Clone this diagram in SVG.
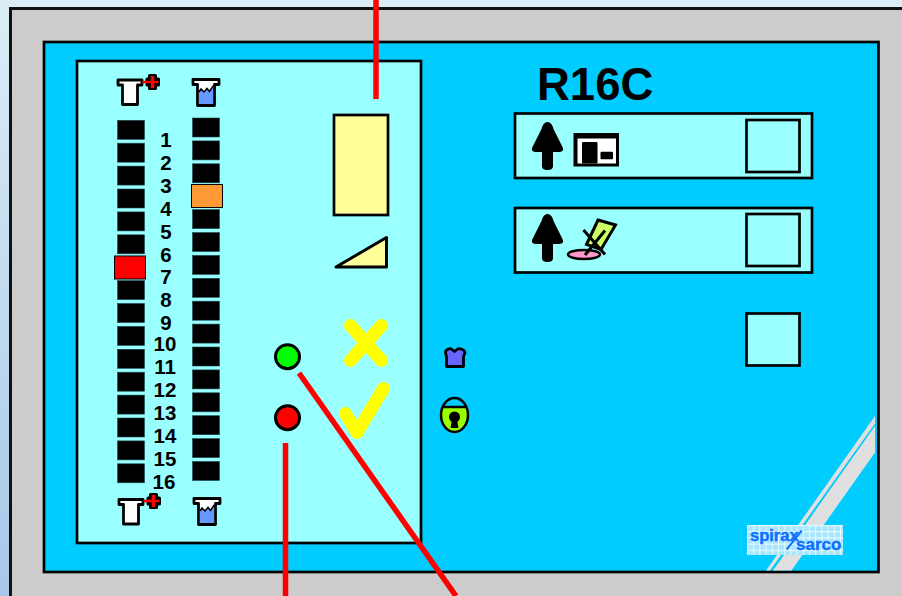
<svg xmlns="http://www.w3.org/2000/svg" width="902" height="596" viewBox="0 0 902 596">
<defs>
<linearGradient id="bg" x1="0" y1="0" x2="0" y2="1"><stop offset="0" stop-color="#dcedf6"/><stop offset="1" stop-color="#a6c8e8"/></linearGradient>
<pattern id="grid" width="6.2" height="6.2" patternUnits="userSpaceOnUse" x="747" y="525"><rect width="6.2" height="6.2" fill="#a8e6ff"/><path d="M0 .5H6.2M.5 0V6.2" stroke="#e8fbff" stroke-width="1"/></pattern>
<rect id="led" width="27" height="19" fill="#000" stroke="#1d4a50" stroke-width=".6"/>
<g id="shirt"><path d="M-12 1.500H12V6.500H7.500V26H-7.500V6.500H-12Z" fill="#fff" stroke="#000" stroke-width="2.800" stroke-linejoin="round"/></g>
<g id="plus"><path d="M-3 -6.500H3V-3H6V3H3V6.500H-3V3H-5.500V-3H-3Z" fill="#000" stroke="#000" stroke-width="3" stroke-linejoin="round"/><path d="M-10 0H6" stroke="#f00" stroke-width="2.500" fill="none"/><path d="M0 -6V6" stroke="#f00" stroke-width="3.500" fill="none"/></g>
<g id="cup"><path d="M-13 1.500H13V6.500H8.500V27.500H-8.500V6.500H-13Z" fill="#fff" stroke="#000" stroke-width="2.800" stroke-linejoin="round"/><path d="M-7.100 14L-5 11 -2 14 1 10.500 3.500 13.500 7.100 8V26.100H-7.100Z" fill="#6699ff"/><path d="M-7.100 14L-5 11 -2 14 1 10.500 3.500 13.500 7.100 8" fill="none" stroke="#000" stroke-width="1.500"/></g>
<path id="up" d="M0 0C3 0 5 3 6 7L15 25C17 29 14 30 11 30H5.500V44C5.500 47 3 48 0 48S-5.500 47-5.500 44V30H-11C-14 30-17 29-15 25L-6 7C-5 3-3 0 0 0Z" fill="#000"/>
<style>
.n{font-family:"Liberation Sans",Arial,sans-serif;font-weight:700;font-size:20.500px;fill:#000;text-anchor:middle}
.k{stroke:#000;stroke-width:2.700}
.p{fill:#99ffff;stroke:#000;stroke-width:2.700}
.y{fill:none;stroke:#ffff00;stroke-linecap:round;stroke-linejoin:round;stroke-width:13}
.c{fill:none;stroke:#ff0000;stroke-width:5.500}
.l{font-family:"Liberation Sans",Arial,sans-serif;font-weight:700;fill:#0d6fff;stroke:#0d6fff;stroke-width:.4}
</style>
</defs>
<rect width="902" height="596" fill="url(#bg)"/>
<rect id="housing" x="10.500" y="8.500" width="893" height="600" fill="#cccccc" stroke="#111" stroke-width="3"/>
<g id="fascia">
<rect x="44" y="42" width="834.500" height="530" fill="#00ccff" class="k"/>
<path d="M875 416V423.500L770 570.500H766Z" fill="#e0e0e0"/>
<path d="M875 426V452.500L791.500 570.500H773Z" fill="#e0e0e0"/>
</g>
<g id="left-panel"><rect x="77" y="61" width="344" height="482" class="p"/></g>
<g id="leds-left">
<use href="#led" x="117.500" y="120.300"/><use href="#led" x="117.500" y="143.200"/><use href="#led" x="117.500" y="166.100"/><use href="#led" x="117.500" y="189"/><use href="#led" x="117.500" y="211.900"/><use href="#led" x="117.500" y="234.800"/><rect x="114.500" y="256" width="31" height="23" fill="#ff0000" stroke="#000" stroke-width="1"/><use href="#led" x="117.500" y="280.600"/><use href="#led" x="117.500" y="303.500"/><use href="#led" x="117.500" y="326.400"/><use href="#led" x="117.500" y="349.300"/><use href="#led" x="117.500" y="372.200"/><use href="#led" x="117.500" y="395.100"/><use href="#led" x="117.500" y="418"/><use href="#led" x="117.500" y="440.900"/><use href="#led" x="117.500" y="463.800"/>
</g>
<g id="leds-right">
<use href="#led" x="192.500" y="118"/><use href="#led" x="192.500" y="140.900"/><use href="#led" x="192.500" y="163.800"/><rect x="191.500" y="184.500" width="31" height="23" fill="#ff9933" stroke="#000" stroke-width="1"/><use href="#led" x="192.500" y="209.600"/><use href="#led" x="192.500" y="232.500"/><use href="#led" x="192.500" y="255.400"/><use href="#led" x="192.500" y="278.300"/><use href="#led" x="192.500" y="301.200"/><use href="#led" x="192.500" y="324.100"/><use href="#led" x="192.500" y="347"/><use href="#led" x="192.500" y="369.900"/><use href="#led" x="192.500" y="392.800"/><use href="#led" x="192.500" y="415.700"/><use href="#led" x="192.500" y="438.600"/><use href="#led" x="192.500" y="461.500"/>
</g>
<g id="numbers">
<text class="n" x="166" y="147">1</text><text class="n" x="166" y="170">2</text><text class="n" x="166" y="193">3</text><text class="n" x="166" y="215.500">4</text><text class="n" x="166" y="238.500">5</text><text class="n" x="166" y="261.500">6</text><text class="n" x="166" y="284">7</text><text class="n" x="166" y="307">8</text><text class="n" x="166" y="330">9</text><text class="n" x="165" y="351">10</text><text class="n" x="165" y="374">11</text><text class="n" x="165" y="397">12</text><text class="n" x="165" y="420">13</text><text class="n" x="165" y="442.500">14</text><text class="n" x="165" y="465.500">15</text><text class="n" x="164" y="489">16</text>
</g>
<g id="icon-shirt-top"><use href="#shirt" x="130" y="78.500"/><use href="#plus" x="152.500" y="82"/></g>
<g id="icon-cup-top"><use href="#cup" x="206" y="78"/></g>
<g id="icon-shirt-bottom"><use href="#shirt" x="131" y="498"/><use href="#plus" x="153.500" y="501"/></g>
<g id="icon-cup-bottom"><use href="#cup" x="207" y="497"/></g>
<g id="level-gauge"><rect x="334" y="115" width="54" height="100" fill="#ffff99" class="k"/></g>
<g id="wedge"><path d="M336 267L386.500 237.500V267Z" fill="#ffff99" stroke="#000" stroke-width="3" stroke-linejoin="round"/></g>
<g id="cross"><path class="y" d="M350.500 325.500L381.500 360.500M381.500 325.500L350.500 360.500"/></g>
<g id="tick"><path class="y" d="M345.500 413.500L357 432.500 383.500 388.500"/></g>
<g id="led-green"><circle cx="287.500" cy="356.700" r="12" fill="#00ff00" stroke="#000" stroke-width="3"/></g>
<g id="led-red"><circle cx="287.500" cy="417.700" r="12" fill="#ff0000" stroke="#000" stroke-width="3"/></g>
<g id="shirt-small"><path d="M445.500 353C445 349.500 450 347.500 452 349.500L454.500 351.500 457 349.500C459 347.500 465 349.500 465 353L463.500 356.500V366.500H446.500V356.500Z" fill="#6666ff" stroke="#000" stroke-width="2.800" stroke-linejoin="round"/></g>
<g id="padlock"><path d="M441.500 407H467.500V415C467.500 424 462 432 454.500 432S441.500 424 441.500 415Z" fill="#99ff00"/><ellipse cx="454.500" cy="415" rx="13.500" ry="17" fill="none" stroke="#000" stroke-width="2.500"/><path d="M442 407H467" stroke="#000" stroke-width="2.500"/><circle cx="454.500" cy="417" r="5.500" fill="#000"/><path d="M452 420H457L458.500 428H450.500Z" fill="#000"/></g>
<g id="model-label"><text x="537" y="100" font-family="Liberation Sans,Arial,sans-serif" font-weight="700" font-size="45.500px" fill="#000">R16C</text></g>
<g id="row-1"><rect x="515" y="113.500" width="297" height="64.500" class="p"/><use href="#up" x="547.500" y="122"/><rect x="575" y="134.500" width="42.500" height="30.500" fill="#fff" stroke="#000" stroke-width="3"/><rect x="574" y="133" width="45" height="5.500" fill="#000"/><rect x="575" y="134" width="2.500" height="31" fill="#000"/><rect x="582" y="142" width="15.500" height="21.500" rx="1" fill="#000"/><rect x="600.500" y="151.700" width="12.500" height="7.600" rx="1" fill="#000"/><rect x="746.500" y="120" width="53" height="52" class="p"/></g>
<g id="row-2"><rect x="515" y="208" width="297" height="64.500" class="p"/><use href="#up" x="547.500" y="214"/><ellipse cx="584" cy="254.500" rx="16" ry="4.500" fill="#ff99cc" stroke="#000" stroke-width="2.500"/><path d="M598 220L615.500 225 601 249.500 586.500 244.500Z" fill="#ccff66" stroke="#000" stroke-width="3"/><path d="M583.500 230L605 254.500M605 230.500L585 255" stroke="#000" stroke-width="3" fill="none"/><rect x="746.500" y="214" width="53" height="52" class="p"/></g>
<g id="button-3"><rect x="746.500" y="313.500" width="53" height="52" class="p"/></g>
<g id="logo"><rect x="747" y="525" width="96" height="30" fill="url(#grid)"/><text class="l" x="750" y="540.500" font-size="16.500px">spirax</text><text class="l" x="796" y="549.500" font-size="17px">sarco</text><path d="M801.700 530.700L786.700 549.300" stroke="#0d6fff" stroke-width="2" fill="none"/></g>
<g id="connectors"><path class="c" d="M376 0V99"/><path class="c" d="M285.500 443V596"/><path class="c" d="M299 373L456 596"/></g>
</svg>
